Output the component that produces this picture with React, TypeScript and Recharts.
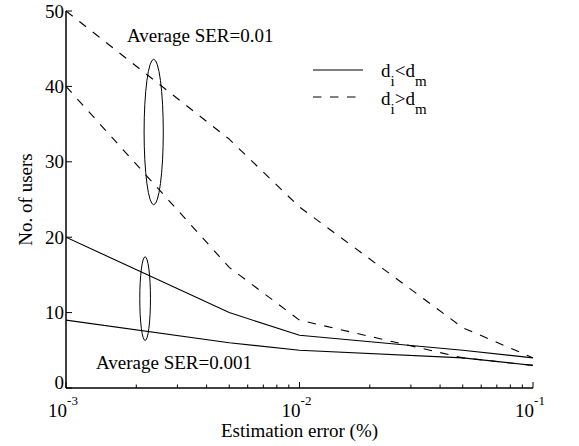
import React from 'react';
import { LineChart, Line, XAxis, YAxis, Legend, ReferenceArea, ReferenceDot } from 'recharts';

// estimation error (%) on a log axis
const estimationError = [0.001, 0.005, 0.01, 0.05, 0.1];

// solid: d_i<d_m, dashed: d_i>d_m
const solidUpper = [20, 10, 7, 5, 4];
const solidLower = [9, 6, 5, 4, 3];
const dashedUpper = [50, 33, 24, 8, 4];
const dashedLower = [40, 16, 9, 4, 3];

const yTicks = [0, 10, 20, 30, 40, 50];
const xMajorTicks = [0.001, 0.01, 0.1];
const xMajorExponents = ['-3', '-2', '-1'];
const xMinorTicks = [
  0.002, 0.003, 0.004, 0.005, 0.006, 0.007, 0.008, 0.009,
  0.02, 0.03, 0.04, 0.05, 0.06, 0.07, 0.08, 0.09,
];
const xTicks = [...xMajorTicks, ...xMinorTicks].sort((a, b) => a - b);

const data = estimationError.map((x, i) => ({
  x,
  solidUpper: solidUpper[i],
  solidLower: solidLower[i],
  dashedUpper: dashedUpper[i],
  dashedLower: dashedLower[i],
}));

const FONT = "'Liberation Serif', Tinos, 'Times New Roman', Times, 'DejaVu Serif', 'Noto Serif', serif";
const textStyle = { fontFamily: FONT, fontSize: 19, fill: '#000' };
const DASH = '8.5 8.5';

function LeftTick({ x, y, payload }: any) {
  return (
    <g>
      <line x1={x} y1={y} x2={x + 6} y2={y} stroke="#000" />
      <text x={x - 2} y={payload.value === 0 ? y - 6 : y} dy="0.35em" textAnchor="end" style={textStyle}>
        {payload.value}
      </text>
    </g>
  );
}

function RightTick({ x, y }: any) {
  return <line x1={x - 6} y1={y} x2={x} y2={y} stroke="#000" />;
}

function BottomTick({ x, y, payload }: any) {
  const idx = xMajorTicks.indexOf(payload.value);
  const major = idx >= 0;
  return (
    <g>
      <line x1={x} y1={y} x2={x} y2={y - (major ? 6 : 3.5)} stroke="#000" />
      {major && (
        <text x={x - 3} y={y + 29} textAnchor="middle" style={textStyle}>
          10
          <tspan dy={-12} style={{ fontSize: 13 }}>
            {xMajorExponents[idx]}
          </tspan>
        </text>
      )}
    </g>
  );
}

function TopTick({ x, y, payload }: any) {
  const major = xMajorTicks.includes(payload.value);
  return <line x1={x} y1={y} x2={x} y2={y + (major ? 6 : 3.5)} stroke="#000" />;
}

function EllipseShape(props: any) {
  const { x, y, width, height } = props;
  return (
    <ellipse
      cx={x + width / 2}
      cy={y + height / 2}
      rx={Math.abs(width) / 2}
      ry={Math.abs(height) / 2}
      fill="none"
      stroke="#000"
      strokeWidth={1}
    />
  );
}

function annotation(text: string) {
  return (props: any) => (
    <text x={props.cx} y={props.cy} style={textStyle}>
      {text}
    </text>
  );
}

// "d_i<d_m" -> d, sub i, <d, sub m
function SubText({ label, x, y }: { label: string; x: number; y: number }) {
  const parts = label.split(/_(\w)/);
  return (
    <text x={x} y={y} style={textStyle}>
      {parts.map((p, i) =>
        i % 2 === 1 ? (
          <tspan key={i} dy={9} style={{ fontSize: 15 }}>
            {p}
          </tspan>
        ) : (
          <tspan key={i} dy={i === 0 ? 0 : -9}>
            {p}
          </tspan>
        )
      )}
    </text>
  );
}

function LegendBox({ payload }: any) {
  const rows = (payload || []).filter((e: any) => e.type !== 'none' && String(e.value).includes('_'));
  return (
    <svg width={200} height={80}>
      {rows.map((entry: any, i: number) => (
        <g key={entry.value}>
          <line
            x1={13}
            x2={63}
            y1={18 + i * 27}
            y2={18 + i * 27}
            stroke="#000"
            strokeDasharray={entry.payload?.strokeDasharray}
          />
          <SubText label={entry.value} x={81} y={25 + i * 28} />
        </g>
      ))}
    </svg>
  );
}

export default function App() {
  return (
    <div style={{ position: 'absolute', left: 0, top: 0, background: '#fff' }}>
      <LineChart width={579} height={446} data={data} margin={{ top: 11, right: 46, bottom: 28, left: 20 }}>
        <XAxis
          dataKey="x"
          type="number"
          scale="log"
          domain={[0.001, 0.1]}
          allowDataOverflow
          ticks={xTicks}
          interval={0}
          height={30}
          tickSize={0}
          tickMargin={0}
          tickLine={false}
          axisLine={{ stroke: '#000', strokeWidth: 1.5 }}
          tick={<BottomTick />}
          label={{
            content: (p: any) => (
              <text
                x={p.viewBox.x + p.viewBox.width / 2}
                y={p.viewBox.y + 49}
                textAnchor="middle"
                style={textStyle}
              >
                Estimation error (%)
              </text>
            ),
          }}
        />
        <XAxis
          xAxisId="top"
          orientation="top"
          dataKey="x"
          type="number"
          scale="log"
          domain={[0.001, 0.1]}
          allowDataOverflow
          ticks={xTicks}
          interval={0}
          height={0}
          tickSize={0}
          tickMargin={0}
          tickLine={false}
          axisLine={{ stroke: '#000', strokeWidth: 1.5 }}
          tick={<TopTick />}
        />
        <YAxis
          type="number"
          domain={[0, 50]}
          ticks={yTicks}
          interval={0}
          width={46}
          tickSize={0}
          tickMargin={0}
          tickLine={false}
          axisLine={{ stroke: '#000', strokeWidth: 1.5 }}
          tick={<LeftTick />}
          label={{
            content: (p: any) => {
              const cx = p.viewBox.x + 12;
              const cy = p.viewBox.y + p.viewBox.height / 2;
              return (
                <text
                  x={cx}
                  y={cy}
                  transform={`rotate(-90 ${cx} ${cy})`}
                  textAnchor="middle"
                  style={textStyle}
                >
                  No. of users
                </text>
              );
            },
          }}
        />
        <YAxis
          yAxisId="right"
          orientation="right"
          type="number"
          domain={[0, 50]}
          ticks={yTicks}
          interval={0}
          width={0}
          tickSize={0}
          tickMargin={0}
          tickLine={false}
          axisLine={{ stroke: '#000', strokeWidth: 1.5 }}
          tick={<RightTick />}
        />
        <Legend
          layout="horizontal"
          align="center"
          verticalAlign="middle"
          wrapperStyle={{ left: 300, top: 52, width: 200, height: 80 }}
          content={<LegendBox />}
        />
        <Line
          dataKey="solidUpper"
          name="d_i<d_m"
          stroke="#000"
          strokeWidth={1.1}
          dot={false}
          legendType="line"
          isAnimationActive={false}
        />
        <Line
          dataKey="solidLower"
          stroke="#000"
          strokeWidth={1.1}
          dot={false}
          legendType="none"
          isAnimationActive={false}
        />
        <Line
          dataKey="dashedUpper"
          name="d_i>d_m"
          stroke="#000"
          strokeWidth={1.1}
          strokeDasharray={DASH}
          dot={false}
          legendType="line"
          isAnimationActive={false}
        />
        <Line
          dataKey="dashedLower"
          stroke="#000"
          strokeWidth={1.1}
          strokeDasharray={DASH}
          dot={false}
          legendType="none"
          isAnimationActive={false}
        />
        <ReferenceArea x1={0.00216} x2={0.00261} y1={24.3} y2={43.6} shape={EllipseShape} />
        <ReferenceArea x1={0.00207} x2={0.0023} y1={6.3} y2={17.4} shape={EllipseShape} />
        <ReferenceDot x={0.001825} y={45.9} r={0} shape={annotation('Average SER=0.01')} />
        <ReferenceDot x={0.001344} y={2.56} r={0} shape={annotation('Average SER=0.001')} />
      </LineChart>
    </div>
  );
}
